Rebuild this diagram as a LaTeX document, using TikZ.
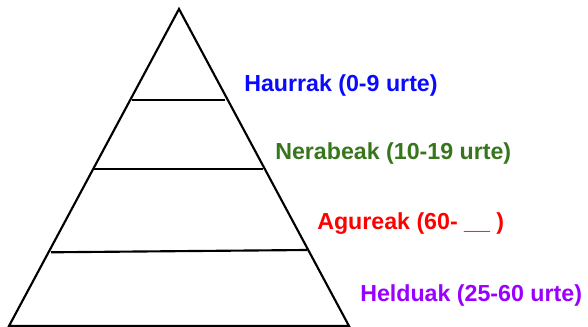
\documentclass[tikz,border=0pt]{standalone}
\usepackage{fontspec}
\setmainfont{Liberation Sans}
\begin{document}
\begin{tikzpicture}[x=0.75pt,y=-0.75pt,
  edge/.style={line width=1.6pt,line join=miter},
  lbl/.style={anchor=base west,inner sep=0pt,font=\fontsize{17.4}{20}\selectfont\bfseries}]
\definecolor{cblue}{RGB}{10,10,255}
\definecolor{cgreen}{RGB}{56,118,29}
\definecolor{cred}{RGB}{255,0,0}
\definecolor{cpurple}{RGB}{153,0,255}
\useasboundingbox (0,0) rectangle (588,327);
\coordinate (apex) at (179,9);
\coordinate (bl) at (9,326);
\coordinate (br) at (349,326);
\coordinate (l1a) at (132,100);
\coordinate (l1b) at (225,100);
\coordinate (l2a) at (94,169);
\coordinate (l2b) at (263,169);
\coordinate (l3a) at (51,252.3);
\coordinate (l3b) at (307,250);
\draw[edge] (apex) -- (br) -- (bl) -- cycle;
\draw[edge] (l1a) -- (l1b);
\draw[edge] (l2a) -- (l2b);
\draw[edge] (l3a) -- (l3b);
\node[lbl,text=cblue] (haur) at (244,91.5) {Haurrak (0-9 urte)};
\node[lbl,text=cgreen] (nera) at (275,160) {Nerabeak (10-19 urte)};
\node[lbl,text=cred] (agur) at (317,230) {Agureak (60- \_\_ )};
\node[lbl,text=cpurple] (held) at (360,301.5) {Helduak (25-60 urte)};
\end{tikzpicture}
\end{document}
